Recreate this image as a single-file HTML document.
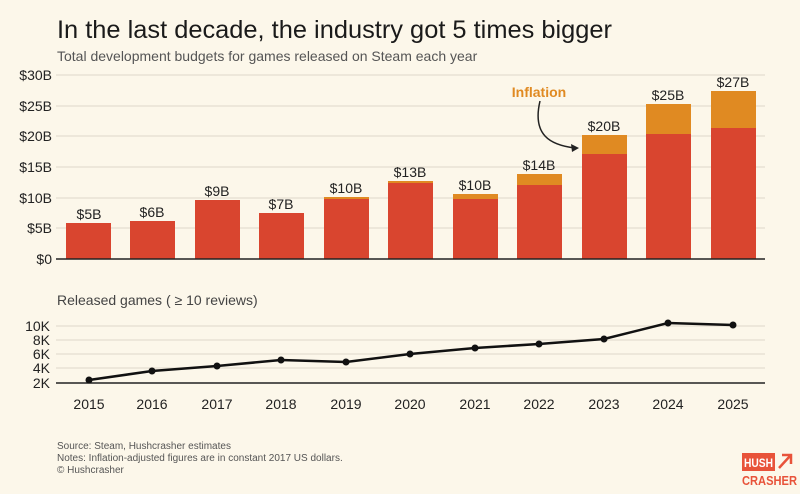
<!DOCTYPE html>
<html><head><meta charset="utf-8"><style>
body{margin:0;background:#fcf7ea;}
svg{display:block;font-family:"Liberation Sans",sans-serif;}
</style></head><body>
<svg width="800" height="494" viewBox="0 0 800 494">
<rect width="800" height="494" fill="#fcf7ea"/>
<text x="57" y="38" font-size="25" fill="#1a1a1a" textLength="555" lengthAdjust="spacingAndGlyphs">In the last decade, the industry got 5 times bigger</text>
<text x="57" y="61" font-size="14" fill="#555">Total development budgets for games released on Steam each year</text>
<g stroke="#e8e2d4" stroke-width="1.5">
<line x1="56" x2="765" y1="75" y2="75"/><line x1="56" x2="765" y1="106" y2="106"/><line x1="56" x2="765" y1="136" y2="136"/><line x1="56" x2="765" y1="167" y2="167"/><line x1="56" x2="765" y1="198" y2="198"/><line x1="56" x2="765" y1="228" y2="228"/>
</g>
<g font-size="14" fill="#222" text-anchor="end">
<text x="52" y="80">$30B</text><text x="52" y="111">$25B</text><text x="52" y="141">$20B</text><text x="52" y="172">$15B</text><text x="52" y="203">$10B</text><text x="52" y="233">$5B</text><text x="52" y="264">$0</text>
</g>
<g fill="#e08a22">
<rect x="324" y="197" width="45" height="62"/><rect x="388" y="181" width="45" height="78"/><rect x="453" y="194" width="45" height="65"/><rect x="517" y="174" width="45" height="85"/><rect x="582" y="135" width="45" height="124"/><rect x="646" y="104" width="45" height="155"/><rect x="711" y="91" width="45" height="168"/>
</g>
<g fill="#d9452f">
<rect x="66" y="223" width="45" height="36"/><rect x="130" y="221" width="45" height="38"/><rect x="195" y="200" width="45" height="59"/><rect x="259" y="213" width="45" height="46"/><rect x="324" y="199" width="45" height="60"/><rect x="388" y="183" width="45" height="76"/><rect x="453" y="199" width="45" height="60"/><rect x="517" y="185" width="45" height="74"/><rect x="582" y="154" width="45" height="105"/><rect x="646" y="134" width="45" height="125"/><rect x="711" y="128" width="45" height="131"/>
</g>
<line x1="56" x2="765" y1="259" y2="259" stroke="#222" stroke-width="1.5"/>
<g font-size="14" fill="#222" text-anchor="middle">
<text x="89" y="219">$5B</text><text x="152" y="217">$6B</text><text x="217" y="196">$9B</text><text x="281" y="209">$7B</text><text x="346" y="193">$10B</text><text x="410" y="177">$13B</text><text x="475" y="190">$10B</text><text x="539" y="170">$14B</text><text x="604" y="131">$20B</text><text x="668" y="100">$25B</text><text x="733" y="87">$27B</text>
</g>
<text x="539" y="97" font-size="14" font-weight="bold" fill="#e08a22" text-anchor="middle">Inflation</text>
<path d="M540,101 C532,135 550,145 575,148" fill="none" stroke="#222" stroke-width="1.5"/>
<path d="M579,148 L571,144 L572,152 Z" fill="#222"/>
<text x="57" y="305" font-size="14" fill="#444">Released games ( ≥ 10 reviews)</text>
<g stroke="#e8e2d4" stroke-width="1.5">
<line x1="56" x2="765" y1="326" y2="326"/><line x1="56" x2="765" y1="340" y2="340"/><line x1="56" x2="765" y1="354" y2="354"/><line x1="56" x2="765" y1="368" y2="368"/>
</g>
<g font-size="14" fill="#222" text-anchor="end">
<text x="50" y="331">10K</text><text x="50" y="345">8K</text><text x="50" y="359">6K</text><text x="50" y="373">4K</text><text x="50" y="388">2K</text>
</g>
<line x1="56" x2="765" y1="383" y2="383" stroke="#222" stroke-width="1.5"/>
<polyline points="89,380 152,371 217,366 281,360 346,362 410,354 475,348 539,344 604,339 668,323 733,325" fill="none" stroke="#111" stroke-width="2.5"/>
<g fill="#111">
<circle cx="89" cy="380" r="3.5"/><circle cx="152" cy="371" r="3.5"/><circle cx="217" cy="366" r="3.5"/><circle cx="281" cy="360" r="3.5"/><circle cx="346" cy="362" r="3.5"/><circle cx="410" cy="354" r="3.5"/><circle cx="475" cy="348" r="3.5"/><circle cx="539" cy="344" r="3.5"/><circle cx="604" cy="339" r="3.5"/><circle cx="668" cy="323" r="3.5"/><circle cx="733" cy="325" r="3.5"/>
</g>
<g font-size="14" fill="#222" text-anchor="middle">
<text x="89" y="409">2015</text><text x="152" y="409">2016</text><text x="217" y="409">2017</text><text x="281" y="409">2018</text><text x="346" y="409">2019</text><text x="410" y="409">2020</text><text x="475" y="409">2021</text><text x="539" y="409">2022</text><text x="604" y="409">2023</text><text x="668" y="409">2024</text><text x="733" y="409">2025</text>
</g>
<g font-size="10" fill="#555">
<text x="57" y="449">Source: Steam, Hushcrasher estimates</text>
<text x="57" y="461">Notes: Inflation-adjusted figures are in constant 2017 US dollars.</text>
<text x="57" y="473">© Hushcrasher</text>
</g>
<g font-weight="bold">
<rect x="742" y="453" width="33" height="18" fill="#e8533a"/>
<text x="744" y="467" fill="#fff" font-size="12" textLength="29" lengthAdjust="spacingAndGlyphs">HUSH</text>
<text x="742" y="485" fill="#e8533a" font-size="13" textLength="55" lengthAdjust="spacingAndGlyphs">CRASHER</text>
<path d="M779,468 L790,456 M782,455 L791,455 L791,464" stroke="#e8533a" stroke-width="2.5" fill="none"/>
</g>
</svg>
</body></html>
